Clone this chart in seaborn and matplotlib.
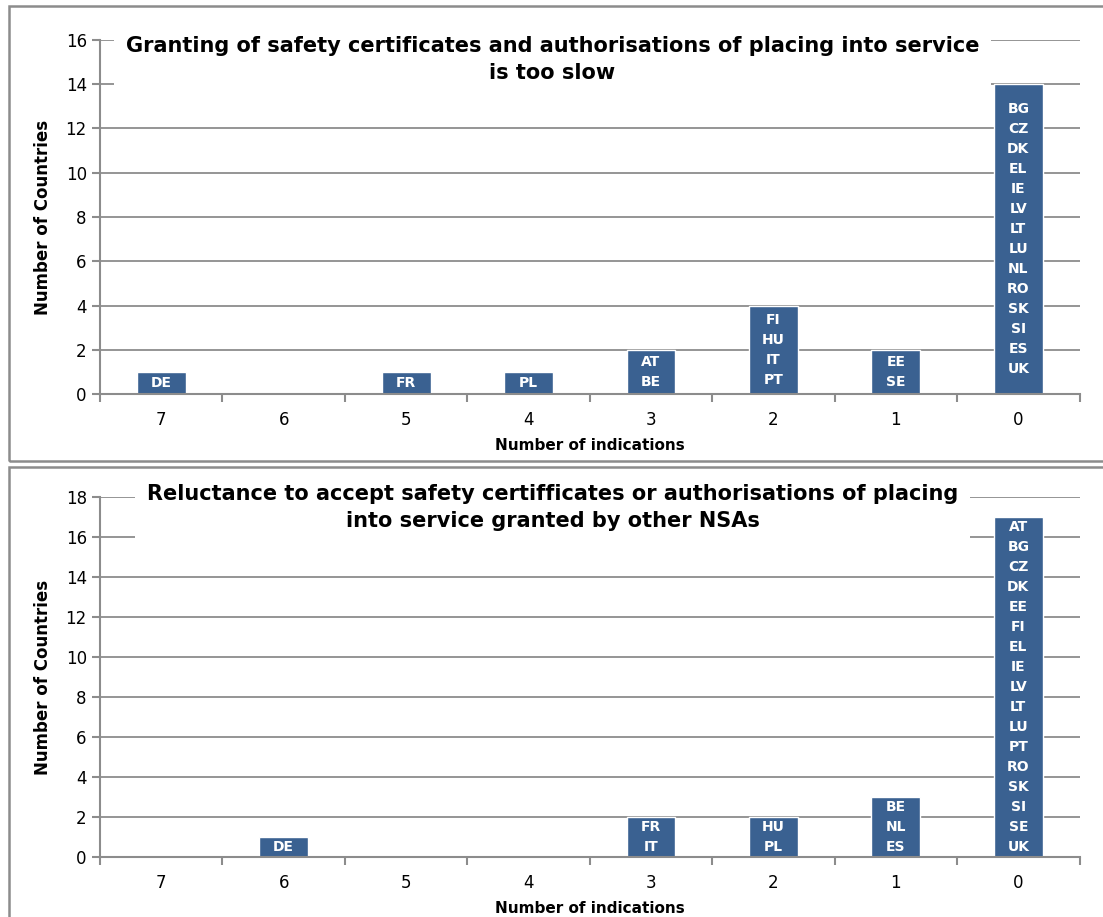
import pandas as pd
import matplotlib.pyplot as plt
import seaborn as sns
from matplotlib.patches import Rectangle

# Datos
indicaciones = ["7", "6", "5", "4", "3", "2", "1", "0"]

lento_n = [1, 0, 1, 1, 2, 4, 2, 14]
lento_paises = [
    ["DE"], [], ["FR"], ["PL"], ["AT", "BE"], ["FI", "HU", "IT", "PT"], ["EE", "SE"],
    ["BG", "CZ", "DK", "EL", "IE", "LV", "LT", "LU", "NL", "RO", "SK", "SI", "ES", "UK"],
]
lento_titulo = "Granting of safety certificates and authorisations of placing into service\nis too slow"

reticencia_n = [0, 1, 0, 0, 2, 2, 3, 17]
reticencia_paises = [
    [], ["DE"], [], [], ["FR", "IT"], ["HU", "PL"], ["BE", "NL", "ES"],
    ["AT", "BG", "CZ", "DK", "EE", "FI", "EL", "IE", "LV", "LT", "LU", "PT", "RO",
     "SK", "SI", "SE", "UK"],
]
reticencia_titulo = ("Reluctance to accept safety certifficates or authorisations of placing\n"
                     "into service granted by other NSAs")

AZUL = "#3a6191"
GRIS = "#8c8c8c"

sns.set_theme(style="white")
plt.rcParams["font.family"] = ["DejaVu Sans"]
plt.rcParams["text.color"] = "black"
plt.rcParams["axes.labelcolor"] = "black"
plt.rcParams["xtick.labelcolor"] = "black"
plt.rcParams["ytick.labelcolor"] = "black"


def grafico_barras(ax, valores, paises, titulo, ymax, y_titulo):
    df_plot = pd.DataFrame({"Indicaciones": indicaciones, "Paises": valores})
    sns.barplot(data=df_plot, x="Indicaciones", y="Paises", order=indicaciones,
                color=AZUL, saturation=1, width=0.4, ax=ax, zorder=2)

    ax.set_ylim(0, ymax)
    ax.set_xlim(-0.5, len(indicaciones) - 0.5)
    ax.set_yticks(range(0, ymax + 1, 2))
    ax.yaxis.grid(True, color=GRIS, lw=1.3, zorder=0)
    ax.set_axisbelow(True)

    for s in ["top", "right"]:
        ax.spines[s].set_visible(False)
    for s in ["left", "bottom"]:
        ax.spines[s].set_color(GRIS)
        ax.spines[s].set_linewidth(1.5)

    # Ticks en los límites de las categorías
    ax.set_xticks([i - 0.5 for i in range(len(indicaciones) + 1)], minor=True)
    ax.tick_params(axis="x", which="major", length=0, labelsize=12, pad=12)
    ax.tick_params(axis="x", which="minor", length=6, width=1.5, color=GRIS, direction="out",
                   bottom=True)
    ax.tick_params(axis="y", length=6, width=1.5, color=GRIS, labelsize=12, left=True)

    ax.set_xlabel("Number of indications", fontsize=11, fontweight="bold", labelpad=7)
    ax.set_ylabel("Number of Countries", fontsize=12, fontweight="bold", labelpad=10)

    # Etiquetas de países centradas dentro de las barras
    for i, (lista, v) in enumerate(zip(paises, valores)):
        if lista:
            ax.text(i, v / 2, "\n".join(lista), ha="center", va="center", color="white",
                    fontsize=10, fontweight="bold", linespacing=1.55, zorder=4)

    ax.text(0.462, y_titulo, titulo, transform=ax.transAxes, ha="center", va="top",
            fontsize=15, fontweight="bold", linespacing=1.42, zorder=5,
            bbox=dict(facecolor="white", edgecolor="none", boxstyle="square,pad=0.55"))


fig = plt.figure(figsize=(11.03, 9.17), dpi=100)
ax1 = fig.add_axes([0.0907, 0.5703, 0.888, 0.3861])
ax2 = fig.add_axes([0.0907, 0.0654, 0.888, 0.3926])

grafico_barras(ax1, lento_n, lento_paises, lento_titulo, 16, 1.01)
grafico_barras(ax2, reticencia_n, reticencia_paises, reticencia_titulo, 18, 1.035)

# Marcos de cada panel
fig.patches.append(Rectangle((0.008, 0.497), 1.1, 0.497, transform=fig.transFigure,
                             fill=False, edgecolor=GRIS, lw=1.8))
fig.patches.append(Rectangle((0.008, -0.05), 1.1, 0.541, transform=fig.transFigure,
                             fill=False, edgecolor=GRIS, lw=1.8))

fig.savefig("out.png", dpi=100)
